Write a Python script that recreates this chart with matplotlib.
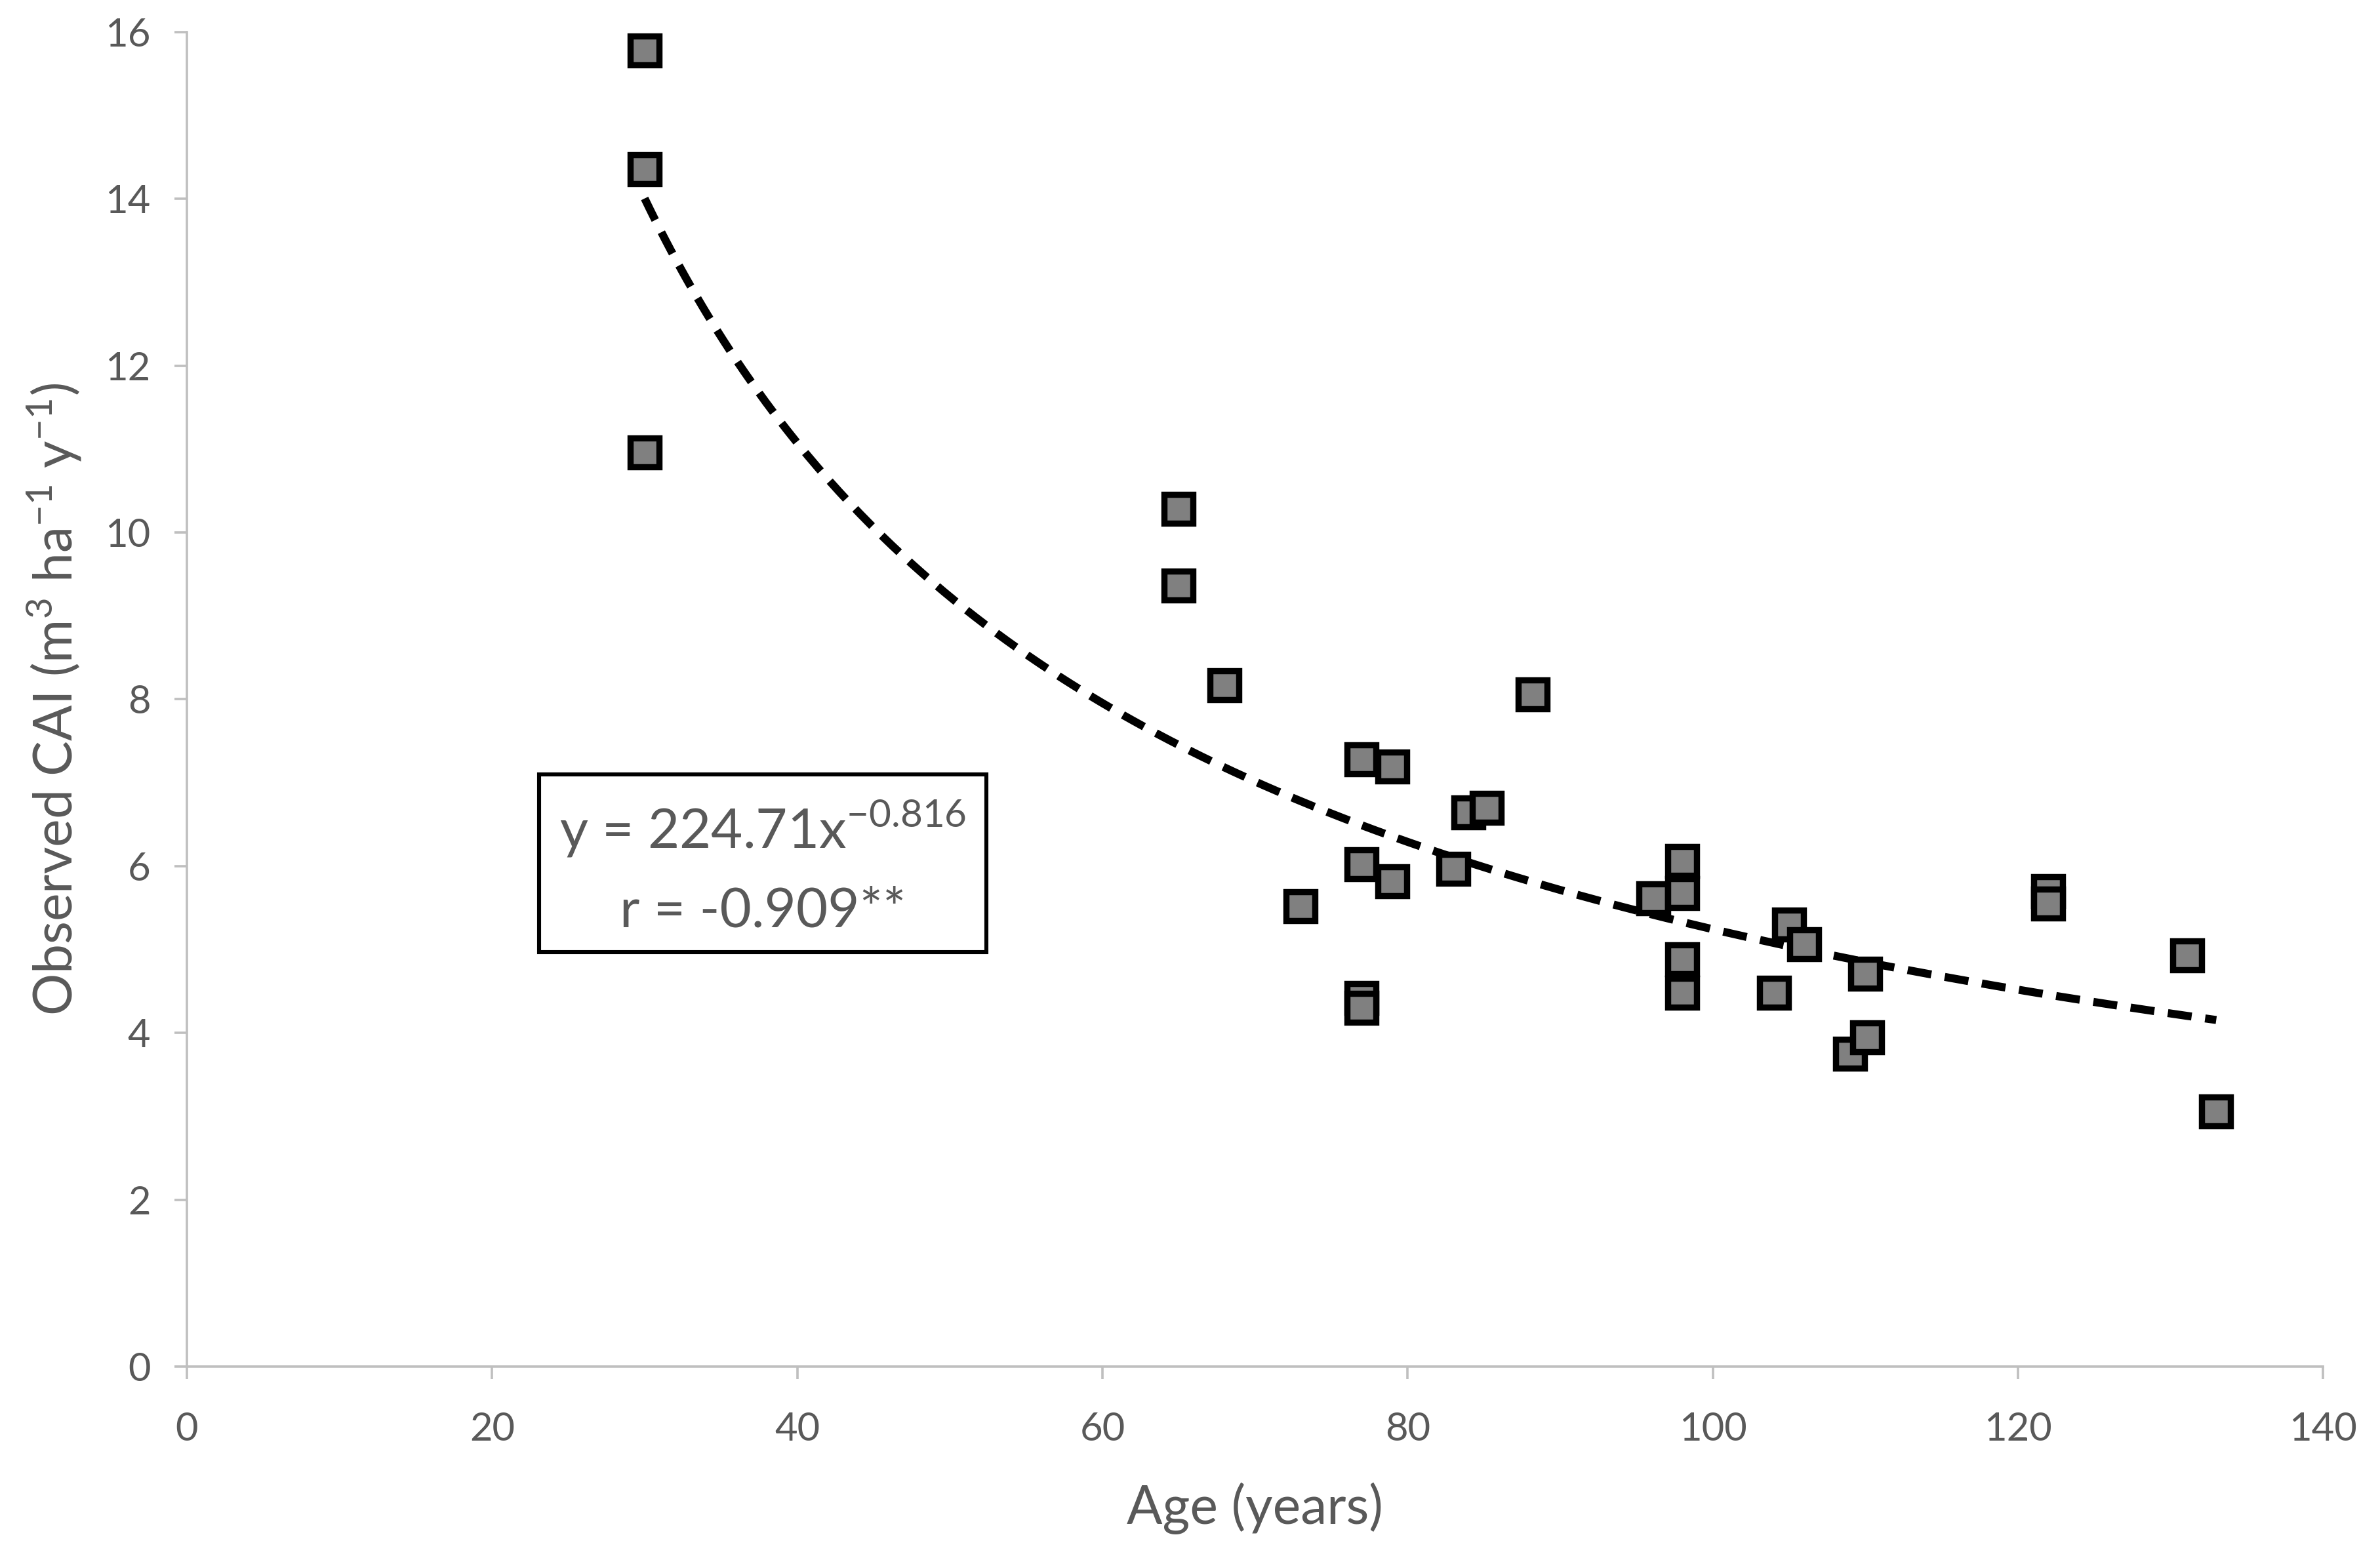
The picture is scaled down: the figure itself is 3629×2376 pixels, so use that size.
import numpy as np
import matplotlib
matplotlib.use("Agg")
import matplotlib.pyplot as plt
from matplotlib.patches import Rectangle

# ---- data ----
age = [30, 30, 30, 65, 65, 68, 88.2, 77, 79, 84, 85.2, 73, 77, 79, 83, 77, 77,
       96.1, 98, 98, 98, 98, 104, 105, 106, 109, 110.1, 110, 122, 122, 131.1, 133]
cai = [15.78, 14.36, 10.96, 10.28, 9.36, 8.17, 8.06, 7.28, 7.19, 6.64, 6.70, 5.52,
       6.02, 5.82, 5.97, 4.42, 4.30, 5.61, 6.06, 5.68, 4.88, 4.48, 4.48, 5.30,
       5.06, 3.75, 3.95, 4.71, 5.70, 5.55, 4.93, 3.06]
fit_a = 224.71
fit_b = -0.816
x_ticks = [0, 20, 40, 60, 80, 100, 120, 140]
y_ticks = [0, 2, 4, 6, 8, 10, 12, 14, 16]
eq_text = r'y = 224.71x$^{\mathregular{-0.816}}$'
r_text = 'r = -0.909**'

plt.rcParams['font.family'] = ['Lato', 'DejaVu Sans']
plt.rcParams['mathtext.fontset'] = 'custom'
plt.rcParams['mathtext.rm'] = 'Lato'
plt.rcParams['axes.unicode_minus'] = False

TXT = '#595959'
AX = '#bfbfbf'

fig = plt.figure(figsize=(18.15, 11.88), dpi=200)
ax = fig.add_axes([0.0785, 0.1229, 0.8973, 0.8565])

xf = np.linspace(min(age), max(age), 300)
yf = fit_a * xf ** fit_b
ax.plot(xf, yf, color='black', lw=4.4, ls=(0, (3.0, 1.7)), zorder=2)

ax.plot(age, cai, ls='none', marker='s', markersize=15.5, markerfacecolor='#808080',
        markeredgecolor='black', markeredgewidth=3.4, zorder=3)

ax.set_xlim(0, 140)
ax.set_ylim(0, 16)
ax.set_xticks(x_ticks)
ax.set_yticks(y_ticks)
for s in ['top', 'right']:
    ax.spines[s].set_visible(False)
for s in ['left', 'bottom']:
    ax.spines[s].set_color(AX)
    ax.spines[s].set_linewidth(1.3)
ax.tick_params(axis='both', colors=AX, labelcolor=TXT, labelsize=21.5,
               width=1.3, length=7, direction='out')
ax.tick_params(axis='x', pad=18)
ax.tick_params(axis='y', pad=13)

ax.set_xlabel('Age (years)', fontsize=29, color=TXT, labelpad=19)
ax.set_ylabel(r'Observed CAI (m$^{\mathregular{3}}$ ha$^{\mathregular{-1}}$ y$^{\mathregular{-1}}$)',
              fontsize=29, color=TXT, labelpad=12)

ax.add_patch(Rectangle((23.1, 4.97), 29.3, 2.13, fill=False, edgecolor='black',
                       lw=2.2, zorder=4))
ax.text(37.75, 6.45, eq_text, ha='center', va='center', fontsize=30, color=TXT, zorder=5)
ax.text(37.75, 5.45, r_text, ha='center', va='center', fontsize=30, color=TXT, zorder=5)

fig.savefig('out.png', dpi=200)
